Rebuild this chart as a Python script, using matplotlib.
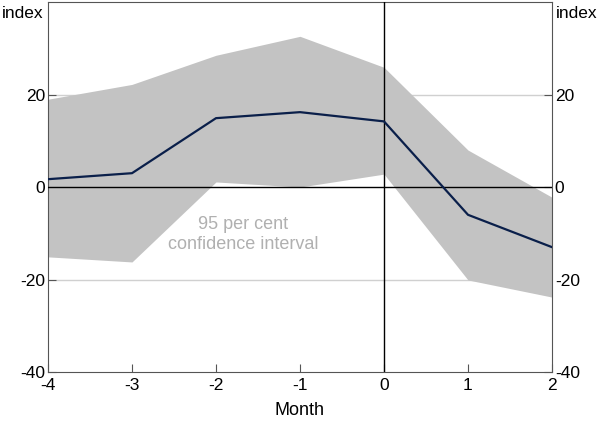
import matplotlib.pyplot as plt
import numpy as np

plt.rcParams['font.family'] = ['Liberation Sans', 'DejaVu Sans']

months = [-4, -3, -2, -1, 0, 1, 2]
estimate = [1.7, 3.0, 14.9, 16.2, 14.2, -6.0, -13.0]
upper = [19.0, 22.2, 28.5, 32.6, 25.9, 8.0, -2.2]
lower = [-15.1, -16.2, 1.1, 0.0, 2.8, -20.1, -23.8]

yticks = [-40, -20, 0, 20]

fig = plt.figure(figsize=(6, 4.22), dpi=100)
ax = fig.add_axes([0.08, 0.1185, 0.84, 0.8765])

for y in [-20, 20]:
    ax.axhline(y, color='#d0d0d0', lw=1, zorder=1)
ax.fill_between(months, lower, upper, color='#c3c3c3', lw=0, zorder=2)
ax.axhline(0, color='black', lw=1, zorder=3)
ax.axvline(0, color='black', lw=1, zorder=3)
ax.plot(months, estimate, color='#0a1f4a', lw=1.6, zorder=4)

ax.text(-1.68, -10.3, '95 per cent\nconfidence interval', color='#b0b0b0',
        ha='center', va='center', fontsize=13, linespacing=1.25, zorder=5)

ax.set_xlim(-4, 2)
ax.set_ylim(-40, 40)
ax.set_xticks(months)
ax.set_xticklabels([str(m) for m in months])
ax.set_yticks(yticks)
ax.set_yticklabels([str(t) for t in yticks])
ax.tick_params(axis='both', direction='in', labelsize=12.5, length=6, color='#555555')
ax.tick_params(axis='y', right=True, labelright=True, pad=2)
ax.tick_params(axis='x', pad=4)
for s in ax.spines.values():
    s.set_color('#555555')
ax.set_xlabel('Month', fontsize=13, labelpad=7)

ax.text(-0.008, 0.99, 'index', transform=ax.transAxes, ha='right', va='top', fontsize=12.5)
ax.text(1.008, 0.99, 'index', transform=ax.transAxes, ha='left', va='top', fontsize=12.5)

fig.savefig('out.png', dpi=100)
